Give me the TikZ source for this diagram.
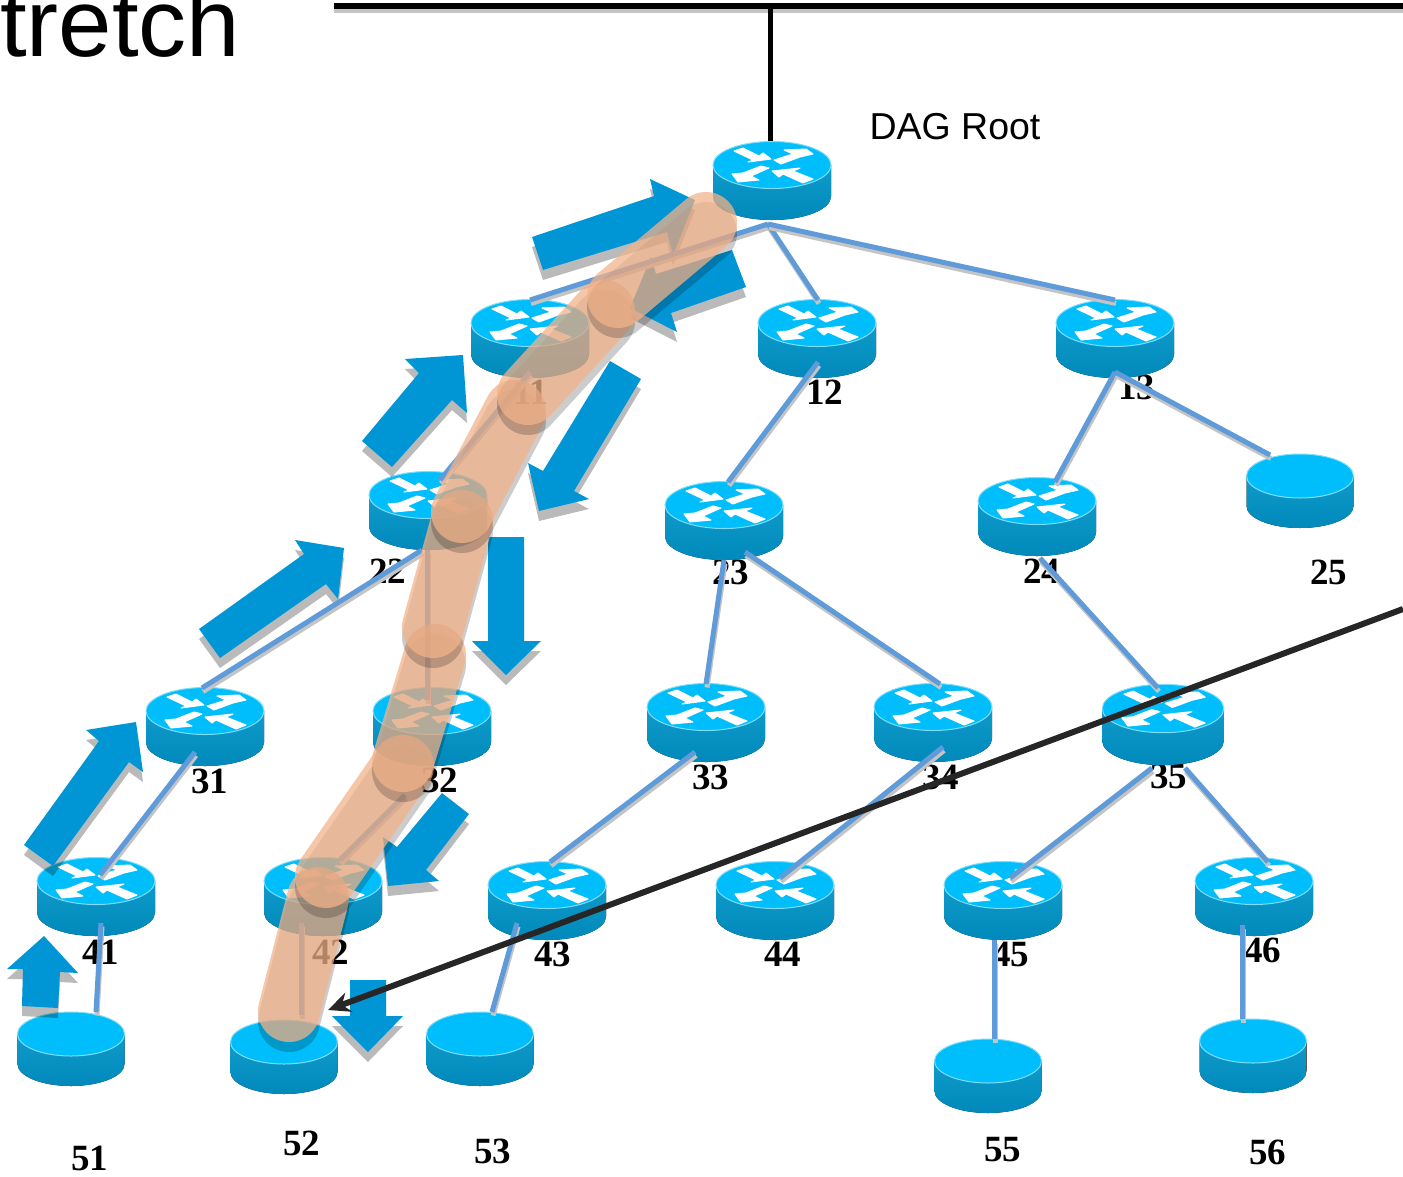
\documentclass[tikz,border=0pt]{standalone}
\usepackage{fontspec}
\setmainfont{Liberation Serif}
\newfontfamily\labelsans{Liberation Sans}
\usetikzlibrary{arrows.meta}

\definecolor{routertop}{HTML}{00BEFB}
\definecolor{routerrim}{HTML}{7FDDF7}
\definecolor{routerhigh}{HTML}{0F9BCB}
\definecolor{routerlow}{HTML}{0089BA}
\definecolor{linkblue}{HTML}{5F9BD9}
\definecolor{linkgray}{HTML}{C4C4C4}
\definecolor{flowblue}{HTML}{0096D6}
\definecolor{bandorange}{RGB}{242,178,138}
\definecolor{arrowblack}{HTML}{262626}

\tikzset{
  routerbox/.style={minimum width=119pt, minimum height=79pt, inner sep=0pt},
  discbox/.style={minimum width=108pt, minimum height=74pt, inner sep=0pt},
  nodelabel/.style={font=\fontsize{37}{37}\selectfont\bfseries, inner sep=0pt, xshift=0.5pt},
  link/.style={draw=linkblue, line width=5pt},
  linkshadow/.style={draw=linkgray, line width=5pt},
  arrowwhite/.style={fill=white, draw=white, line width=1pt, line join=round},
  router/.pic={
    \fill[top color=routerhigh, bottom color=routerlow]
      (-59,-16) -- (-59,15.5)
      arc[start angle=180, end angle=0, x radius=59, y radius=23.5]
      -- (59,-16) -- cycle;
    \fill[routertop, draw=routerrim, line width=1pt] (0,-16) ellipse[x radius=59, y radius=23.5];
    \begin{scope}[shift={(0,-16)}]
      \path[arrowwhite] (-38,-14) -- (-29,-17) -- (-13,-9) -- (-9,-12) -- (-1,-6) -- (-24,-3) -- (-19,-5) -- cycle;
      \path[arrowwhite] (2,-5) -- (21,-11) -- (12,-15) -- (34,-16) -- (41,-11) -- (28,-8) -- (9,-1) -- cycle;
      \path[arrowwhite] (-3,3) -- (-21,11) -- (-13,15) -- (-34,17) -- (-40,9) -- (-29,8) -- (-11,1) -- cycle;
      \path[arrowwhite] (41,14) -- (31,18) -- (11,9) -- (7,12) -- (0,6) -- (28,3) -- (21,6) -- cycle;
    \end{scope}
  },
  disc/.pic={
    \fill[top color=routerhigh, bottom color=routerlow]
      (-53.5,-15) -- (-53.5,15)
      arc[start angle=180, end angle=0, x radius=53.5, y radius=22]
      -- (53.5,-15) -- cycle;
    \fill[routertop, draw=routerrim, line width=1pt] (0,-15) ellipse[x radius=53.5, y radius=22];
  }
}

% Block arrow with its shadow
\newcommand{\flowarrow}[1]{
  \fill[black, opacity=0.27, shift={(0,10)}] #1 -- cycle;
  \fill[flowblue] #1 -- cycle;
}

\begin{document}
\begin{tikzpicture}[x=1pt, y=-1pt]
  \useasboundingbox (0,0) rectangle (1403,1176);

  % Title and root label
  \node[anchor=base west, inner sep=0pt, font=\labelsans\fontsize{96}{96}\selectfont] (stretchtext) at (0,56) {tretch};
  \node[font=\labelsans\fontsize{37.5}{37.5}\selectfont, inner sep=0pt] (rootlabel) at (955,127) {DAG Root};

  % Node numbers
  \foreach \name/\x/\y in {11/530/392, 12/824/392, 13/1136/387, 22/387/571, 23/730/572, 24/1041/571,
      25/1328/572, 31/209/781, 32/439/780, 33/710/777, 34/940/777, 35/1168/776, 41/100/952,
      42/330/952, 43/552/954, 44/782/954, 45/1010/954, 46/1262/950, 51/89/1158, 52/301/1143,
      53/492/1151, 55/1002/1150, 56/1267/1152}
    \node[nodelabel] (lab\name) at (\x,\y) {\name};

  % Routers
  \foreach \name/\x/\y in {r0/772/181, r11/530/339, r12/817/339, r13/1115/339, r22/428/511,
      r23/724/521, r24/1037/517, r31/205/727, r32/432/727, r33/706/723, r34/933/723,
      r41/96/897, r42/323/897, r43/547/901, r44/775/901, r45/1003/901, r46/1254/897} {
    \node[routerbox] (\name) at (\x,\y) {};
    \pic at (\name) {router};
  }
  \node[routerbox] (r35) at (1163,725) {};
  \pic[scale=1.03] at (r35) {router};

  % Leaves
  \foreach \name/\x/\y in {d25/1300/491, d51/71/1049, d52/284/1057, d53/480/1049, d55/988/1076, d56/1253/1056} {
    \node[discbox] (\name) at (\x,\y) {};
    \pic at (\name) {disc};
  }

  % Block arrows along the path
  \flowarrow{(532,237) -- (654,196) -- (650,179) -- (695,200) -- (673,255) -- (667,232) -- (543,270)}
  \flowarrow{(732,250) -- (746,287) -- (671,313) -- (677,332) -- (630,308) -- (651,257) -- (656,274)}
  \flowarrow{(362,441) -- (419,373) -- (405,359) -- (463,355) -- (467,413) -- (452,400) -- (392,467)}
  \flowarrow{(610,361) -- (641,379) -- (574,491) -- (589,499) -- (539,511) -- (528,463) -- (543,471)}
  \flowarrow{(488,537) -- (524,537) -- (524,641) -- (541,641) -- (506,675) -- (472,641) -- (488,641)}
  \flowarrow{(199,629) -- (304,554) -- (295,540) -- (344,548) -- (338,599) -- (326,584) -- (220,658)}
  \flowarrow{(24,845) -- (99,741) -- (86,730) -- (136,722) -- (143,772) -- (129,762) -- (53,866)}
  \flowarrow{(442,793) -- (469,814) -- (426,870) -- (439,881) -- (388,886) -- (383,837) -- (397,847)}
  \flowarrow{(23,969) -- (7,969) -- (44,936) -- (78,973) -- (60,972) -- (58,1008) -- (22,1006)}
  \flowarrow{(350,980) -- (386,980) -- (386,1016) -- (403,1016) -- (368,1052) -- (332,1016) -- (350,1016)}

  % Links
  \foreach \from/\fromoff/\to/\tooff in {
      r0/{-4,43}/r11/{0,-39}, r0/{-4,43}/r12/{1,-39}, r0/{-4,43}/r13/{0,-39},
      r11/{0,33}/r22/{12,-31}, r12/{1,23}/r23/{4,-39}, r13/{0,33}/r24/{18,-35},
      r13/{0,33}/d25/{-30,-36}, r22/{-6,39}/r31/{-3,-39}, r22/{-1,39}/r32/{-5,-27},
      r23/{0,39}/r33/{0,-39}, r23/{21,31}/r34/{7,-39}, r24/{3,41}/r35/{-5,-37},
      r31/{-10,25}/r41/{4,-22}, r32/{-27,68}/r42/{17,-37}, r33/{-11,29}/r43/{3,-39},
      r34/{10,24}/r44/{5,-23}, r35/{-11,43}/r45/{7,-23}, r35/{22,43}/r46/{14,-35},
      r41/{5,26}/d51/{25,-37}, r42/{-22,26}/d52/{17,-42}, r43/{-30,22}/d53/{12,-37},
      r45/{-9,39}/d55/{6,-37}, r46/{-12,28}/d56/{-11,-37}} {
    \draw[linkshadow] ([shift={(\fromoff)},xshift=1pt,yshift=-3.5pt]\from.center) -- ([shift={(\tooff)},xshift=1pt,yshift=-3.5pt]\to.center);
    \draw[link] ([shift={(\fromoff)}]\from.center) -- ([shift={(\tooff)}]\to.center);
  }

  % Route band, last leg first
  \foreach \ax/\ay/\bx/\by in {318/898/289/1011, 403/766/326/877, 435/655/403/761, 462/521/433/627,
      515/411/462/512, 604/311/528/394, 706/223/618/297} {
    \draw[black, opacity=0.2, line width=62pt, line cap=round, shift={(0,10)}] (\ax,\ay) -- (\bx,\by);
    \draw[bandorange, opacity=0.74, line width=62pt, line cap=round] (\ax,\ay) -- (\bx,\by);
  }

  % Bus and long arrow
  \coordinate (busleft) at (334,6);
  \coordinate (busright) at (1403,6);
  \coordinate (bustap) at (770.5,6);
  \draw[linkgray, line width=5pt] ([yshift=-4pt]busleft) -- ([yshift=-4pt]busright);
  \draw[black, line width=5.5pt] (busleft) -- (busright);
  \draw[black, line width=5pt] (bustap) -- (r0.north -| bustap);

  \coordinate (longstart) at (1403,609);
  \coordinate (longend) at (328,1010);
  \draw[arrowblack, line width=6pt, -{Stealth[length=22pt, width=20pt]}] (longstart) -- (longend);
\end{tikzpicture}
\end{document}
